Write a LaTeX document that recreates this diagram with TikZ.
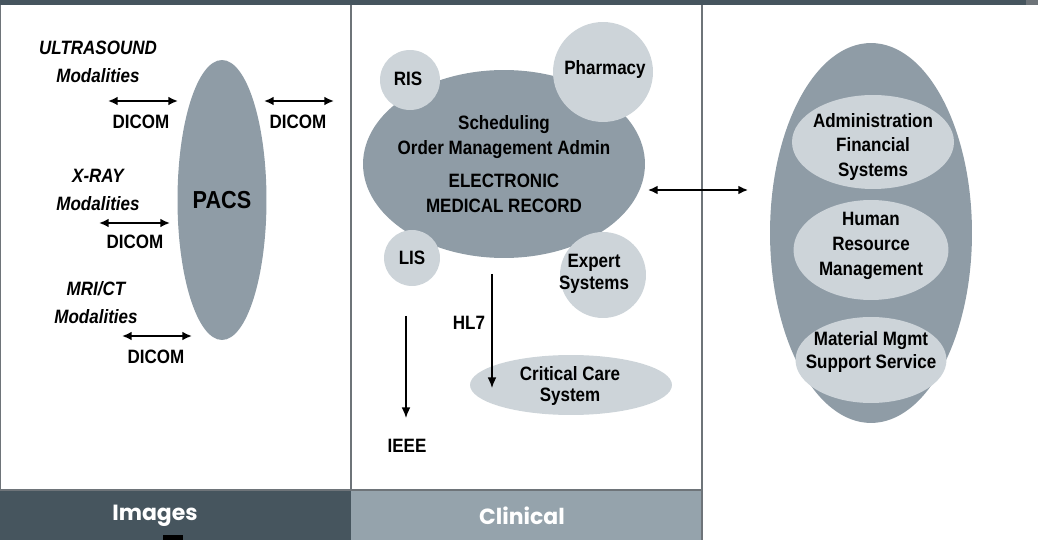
\documentclass[tikz,border=0pt]{standalone}
\usepackage{fontspec}
\setmainfont{Liberation Sans}[FakeStretch=0.88]
\newfontfamily\barfont{Poppins}
\usetikzlibrary{arrows.meta, calc, positioning, shapes}

\definecolor{slate}{HTML}{46555E}
\definecolor{midgray}{HTML}{8F9CA6}
\definecolor{lightgray}{HTML}{CDD4D9}
\definecolor{bargray}{HTML}{95A3AC}
\definecolor{rulegray}{HTML}{6E7479}

\tikzset{
	blob/.style={ellipse, fill=midgray, inner sep=0pt},
	bubble/.style={circle, fill=lightgray, inner sep=0pt},
	pod/.style={ellipse, fill=lightgray, inner sep=0pt},
	lbl/.style={inner sep=0pt, align=center, font=\fontsize{11}{14}\selectfont\bfseries},
	modal/.style={inner sep=0pt, align=center, font=\fontsize{11}{16}\selectfont\bfseries\itshape},
	tab/.style={inner sep=0pt, text=white, font=\barfont\fontsize{12.5}{14}\selectfont\bfseries},
	link/.style={{Latex[length=5.5pt,width=5pt]}-{Latex[length=5.5pt,width=5pt]}, line width=1.1pt},
	flow/.style={-{Latex[length=6pt,width=5pt]}, line width=0.8pt}
}

\begin{document}
\begin{tikzpicture}[x=0.02cm, y=-0.02cm]
			\useasboundingbox (0,0) rectangle (1038,540);
			\fill[slate] (0,0) rectangle (1026,5);
			\fill[rulegray] (1026,0) rectangle (1038,5);
			\fill[slate] (0,490) rectangle (351,540);
			\fill[bargray] (351,490) rectangle (702,540);
			\fill[black] (163,535) rectangle (183,540);
			\draw[rulegray, line width=0.6pt] (0.5,5) -- (0.5,490) -- (702,490);
			\draw[rulegray, line width=0.6pt] (351,5) -- (351,490);
			\draw[rulegray, line width=0.6pt] (702,5) -- (702,540);
			\node[tab] (images) at (155,516) {Images};
			\node[tab] (clinical) at (522,516) {Clinical};

			\node[blob, minimum width=1.78cm, minimum height=5.6cm] (pacs) at (222,200) {};
			\node[lbl, font=\fontsize{14}{16}\selectfont\bfseries] (pacstext) at (pacs) {PACS};
			\node[modal] (us) at (98,62) {ULTRASOUND\\Modalities};
			\node[modal] (xray) at (98,190) {X-RAY\\Modalities};
			\node[modal] (mri) at (96,303) {MRI/CT\\Modalities};
			\coordinate (us1) at (108,101);
			\coordinate (us2) at (178,101);
			\coordinate (pc1) at (264,101);
			\coordinate (pc2) at (334,101);
			\coordinate (xr1) at (99,223);
			\coordinate (xr2) at (170,223);
			\coordinate (mr1) at (122,336);
			\coordinate (mr2) at (192,336);
			\draw[link] (us1) -- (us2);
			\draw[link] (pc1) -- (pc2);
			\draw[link] (xr1) -- (xr2);
			\draw[link] (mr1) -- (mr2);
			\node[lbl] (d1) at (141,122) {DICOM};
			\node[lbl] (d2) at (298,122) {DICOM};
			\node[lbl] (d3) at (135,242) {DICOM};
			\node[lbl] (d4) at (156,357) {DICOM};

			\node[blob, minimum width=5.64cm, minimum height=3.76cm] (emr) at (504,164) {};
			\node[lbl, font=\fontsize{11}{14.5}\selectfont\bfseries] (emrtext) at (emr) {Scheduling\\Order Management Admin\\[4pt]ELECTRONIC\\MEDICAL RECORD};
			\node[bubble, minimum size=1.2cm] (ris) at (410,80) {};
			\node[bubble, minimum size=2cm] (pharm) at (603,72) {};
			\node[bubble, minimum size=1.12cm] (lis) at (412,258) {};
			\node[bubble, minimum size=1.72cm] (expert) at (603,275) {};
			\node[pod, minimum width=4.04cm, minimum height=1.2cm] (icu) at (571,385) {};
			\node[lbl] (ristext) at (408,79) {RIS};
			\node[lbl] (pharmtext) at (605,70) {Pharmacy};
			\node[lbl] (listext) at (412,258) {LIS};
			\node[lbl, font=\fontsize{11}{12.5}\selectfont\bfseries] (experttext) at (594,274) {Expert\\Systems};
			\node[lbl, font=\fontsize{11}{11.5}\selectfont\bfseries] (icutext) at (570,386) {Critical Care\\System};
			\coordinate (hl1) at (492,274);
			\coordinate (hl2) at (492,388);
			\coordinate (ie1) at (406,316);
			\coordinate (ie2) at (406,418);
			\draw[flow] (hl1) -- (hl2);
			\draw[flow] (ie1) -- (ie2);
			\node[lbl] (hl7) at (469,323) {HL7};
			\node[lbl] (ieee) at (407,446) {IEEE};

			\node[blob, minimum width=4.04cm, minimum height=7.6cm] (admin) at (871,233) {};
			\node[pod, minimum width=3.24cm, minimum height=1.88cm] (fin) at (873,142) {};
			\node[pod, minimum width=3.1cm, minimum height=2cm] (hr) at (871,250) {};
			\node[pod, minimum width=3.02cm, minimum height=1.72cm] (mat) at (871,360) {};
			\node[lbl, font=\fontsize{11}{14.2}\selectfont\bfseries] (fintext) at (873,147) {Administration\\Financial\\Systems};
			\node[lbl, font=\fontsize{11}{14.2}\selectfont\bfseries] (hrtext) at (871,246) {Human\\Resource\\Management};
			\node[lbl, font=\fontsize{11}{13}\selectfont\bfseries] (mattext) at (871,352) {Material Mgmt\\Support Service};
			\coordinate (em1) at (648,190);
			\coordinate (em2) at (748,190);
			\draw[link, line width=0.9pt] (em1) -- (em2);
\end{tikzpicture}
\end{document}
